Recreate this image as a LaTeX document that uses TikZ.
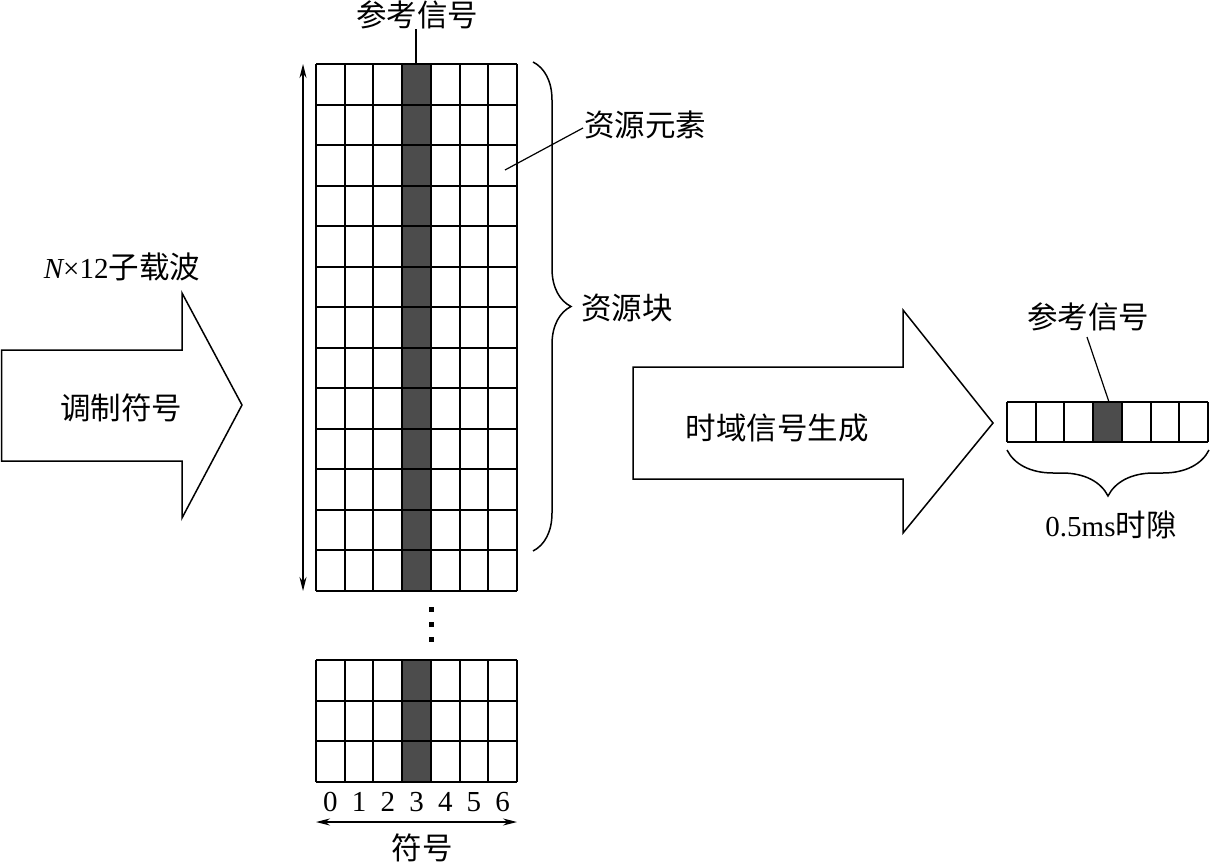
\documentclass[tikz,border=0pt]{standalone}
\usepackage{fontspec}
\setmainfont{Liberation Serif}
\newfontfamily\cjk{Noto Sans CJK SC}
\usetikzlibrary{decorations.pathreplacing,arrows.meta}
\newcommand{\cjksize}{\fontsize{30.5}{32}\selectfont}
\begin{document}
\begin{tikzpicture}[x=1pt,y=-1pt,
  gridline/.style={line width=2pt},
  darkcell/.style={fill=black!70},
  lbl/.style={font=\cjksize\cjk, inner sep=0pt},
  num/.style={font=\fontsize{29}{30}\selectfont, inner sep=0pt},
  leader/.style={line width=1.2pt},
  bigarrow/.style={line width=1.5pt, line join=miter},
  dbl/.style={line width=1.3pt, {Stealth[length=14pt,width=7pt]}-{Stealth[length=14pt,width=7pt]}},
  bracedeco/.style={line width=1.5pt, decorate, decoration={brace, amplitude=#1}}]
\useasboundingbox (0,0) rectangle (1211,864);

% main grid
\fill[darkcell] (402.9,64) rectangle (431.6,591);
\foreach \k in {0,...,13} \draw[gridline] (316,{64+\k*40.54}) -- (517,{64+\k*40.54});
\foreach \k in {0,...,7} \draw[gridline] ({316+\k*28.714},64) -- ({316+\k*28.714},591);

% dots
\foreach \yy in {609,624,639} \fill (428.5,{\yy-2.5}) rectangle (433.5,{\yy+2.5});

% bottom grid
\fill[darkcell] (402.9,660) rectangle (431.6,782);
\foreach \k in {0,...,3} \draw[gridline] (316,{660+\k*40.67}) -- (517,{660+\k*40.67});
\foreach \k in {0,...,7} \draw[gridline] ({316+\k*28.714},660) -- ({316+\k*28.714},782);

% digits
\foreach \k in {0,...,6} \node[num] (d\k) at ({330.4+\k*28.714},802) {\k};
\coordinate (hl) at (316,822); \coordinate (hr) at (517,822);
\draw[dbl] (hl) -- (hr);
\node[lbl] (sym) at (422,848) {符号};

% vertical arrow
\coordinate (vt) at (303,64); \coordinate (vb) at (303,591);
\draw[dbl] (vt) -- (vb);

% top label
\node[lbl] (ref1) at (417,15) {参考信号};
\coordinate (ref1end) at (416,64);
\draw[leader] (ref1.south -| ref1end) -- (ref1end);

% resource element
\node[lbl] (re) at (645,125) {资源元素};
\coordinate (recell) at (505,170);
\draw[leader] (recell) -- (583,128);

% brace resource block
\draw[bracedeco=38pt] (533,62) -- (533,551);
\node[lbl] (rb) at (627,308) {资源块};

% left arrow
\draw[bigarrow] (1.5,350) -- (182,350) -- (182,293) -- (242,405) -- (182,518) -- (182,461) -- (1.5,461) -- cycle;
\node[lbl] (mod) at (121,408) {调制符号};
\node[num] (nsc) at (122,267) {\itshape N\upshape ×12{\cjk\cjksize 子载波}};

% middle arrow
\draw[bigarrow] (633,367) -- (903,367) -- (903,310) -- (993,423) -- (903,533) -- (903,479) -- (633,479) -- cycle;
\node[lbl] (tdg) at (777,428) {时域信号生成};

% slot
\fill[darkcell] (1093.1,402) rectangle (1121.8,442);
\draw[gridline] (1007,402) -- (1208,402);
\draw[gridline] (1007,442) -- (1208,442);
\foreach \k in {0,...,7} \draw[gridline] ({1007+\k*28.714},402) -- ({1007+\k*28.714},442);
\node[lbl] (ref2) at (1088,317) {参考信号};
\coordinate (ref2end) at (1109,402);
\draw[leader] (1087,337) -- (ref2end);
\draw[bracedeco=46pt] (1209,450) -- (1007,450);
\node[num] (slot) at (1111,525) {0.5ms{\cjk\cjksize 时隙}};
\end{tikzpicture}
\end{document}
